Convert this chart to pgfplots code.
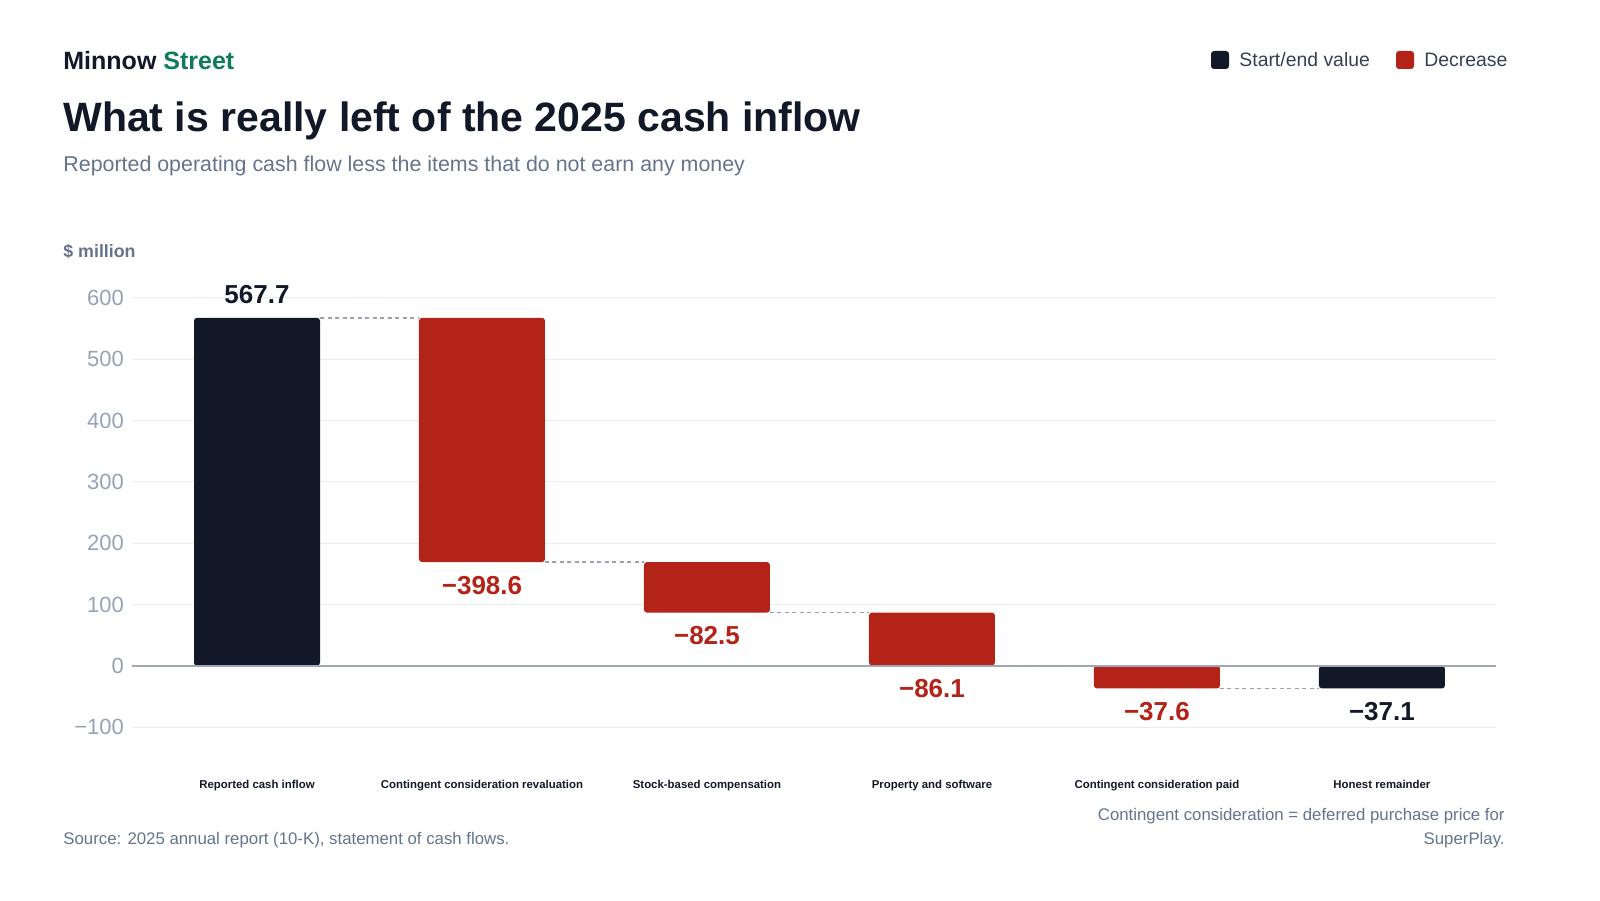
\documentclass[border=0pt]{standalone}
\usepackage{fontspec}
\setmainfont{Liberation Sans}
\usepackage{pgfplots}
\pgfplotsset{compat=1.18}
\definecolor{navy}{HTML}{111827}
\definecolor{redbar}{HTML}{B42318}
\definecolor{brandgreen}{HTML}{0F7B5A}
\definecolor{subgray}{HTML}{64748B}
\definecolor{leggray}{HTML}{334155}
\definecolor{tickgray}{HTML}{94A3B8}
\definecolor{gridgray}{HTML}{E8EBEF}
\definecolor{zerogray}{HTML}{A0A7B8}
\definecolor{dashgray}{HTML}{98A2B3}
\begin{document}
\begin{tikzpicture}[x=1pt,y=1pt]
% header
\node[anchor=base west,inner sep=0,font=\fontsize{12.5}{15}\selectfont\bfseries] at (31.5,415) {\textcolor{navy}{Minnow} \textcolor{brandgreen}{Street}};
\node[anchor=base west,inner sep=0,font=\fontsize{20.5}{24}\selectfont\bfseries,text=navy] at (31.5,384) {What is really left of the 2025 cash inflow};
\node[anchor=base west,inner sep=0,font=\fontsize{10.7}{13}\selectfont,text=subgray] at (31.5,364) {Reported operating cash flow less the items that do not earn any money};
\node[anchor=base west,inner sep=0,font=\fontsize{8.9}{11}\selectfont\bfseries,text=subgray] at (31.5,321) {\$ million};
% legend
\fill[navy,rounded corners=1.5pt] (605.5,415.5) rectangle (614.5,424.5);
\node[anchor=west,inner sep=0,font=\fontsize{9.7}{12}\selectfont,text=leggray] at (619.5,420) {Start/end value};
\fill[redbar,rounded corners=1.5pt] (698,415.5) rectangle (707,424.5);
\node[anchor=west,inner sep=0,font=\fontsize{9.7}{12}\selectfont,text=leggray] at (712,420) {Decrease};
% footer
\node[anchor=west,inner sep=0,font=\fontsize{8.4}{10}\selectfont,text=subgray] at (31.5,30) {Source: 2025 annual report (10-K), statement of cash flows.};
\node[anchor=east,inner sep=0,font=\fontsize{8.4}{10}\selectfont,text=subgray] at (752.5,42) {Contingent consideration = deferred purchase price for};
\node[anchor=east,inner sep=0,font=\fontsize{8.4}{10}\selectfont,text=subgray] at (752.5,30) {SuperPlay.};
\begin{axis}[
  at={(66pt,86.5pt)}, anchor=south west,
  scale only axis, width=682pt, height=214.5pt,
  xmin=-0.5556, xmax=5.507, ymin=-100, ymax=600,
  clip=false,
  axis line style={draw=none},
  tick style={draw=none},
  ymajorgrids, grid style={gridgray,line width=0.5pt},
  ytick={-100,0,100,200,300,400,500,600},
  yticklabels={−100,0,100,200,300,400,500,600},
  yticklabel style={font=\fontsize{11}{13}\selectfont,text=tickgray,xshift=-0.5pt},
  xtick={0,1,2,3,4,5},
  xticklabels={Reported cash inflow,Contingent consideration revaluation,Stock-based compensation,Property and software,Contingent consideration paid,Honest remainder},
  xticklabel style={font=\fontsize{5.7}{7}\selectfont\bfseries,text=navy,anchor=base,yshift=-30.5pt},
]
% bars: (left,top) (right,top) (right,bottom) (left,bottom)
\addplot[draw=none,fill=navy,rounded corners=1.5pt] coordinates {(-0.28,567.7) (0.28,567.7) (0.28,0) (-0.28,0)} -- cycle;
\addplot[draw=none,fill=redbar,rounded corners=1.5pt] coordinates {(0.72,567.7) (1.28,567.7) (1.28,169.1) (0.72,169.1)} -- cycle;
\addplot[draw=none,fill=redbar,rounded corners=1.5pt] coordinates {(1.72,169.1) (2.28,169.1) (2.28,86.6) (1.72,86.6)} -- cycle;
\addplot[draw=none,fill=redbar,rounded corners=1.5pt] coordinates {(2.72,86.6) (3.28,86.6) (3.28,0.5) (2.72,0.5)} -- cycle;
\addplot[draw=none,fill=redbar,rounded corners=1.5pt] coordinates {(3.72,0.5) (4.28,0.5) (4.28,-37.1) (3.72,-37.1)} -- cycle;
\addplot[draw=none,fill=navy,rounded corners=1.5pt] coordinates {(4.72,0) (5.28,0) (5.28,-37.1) (4.72,-37.1)} -- cycle;
% zero line and connectors
\addplot[zerogray,line width=0.8pt] coordinates {(-0.5556,0) (5.507,0)};
\addplot[dashgray,line width=0.75pt,dash pattern=on 2pt off 1.75pt] coordinates {(0.28,567.7) (0.72,567.7)};
\addplot[dashgray,line width=0.75pt,dash pattern=on 2pt off 1.75pt] coordinates {(1.28,169.1) (1.72,169.1)};
\addplot[dashgray,line width=0.75pt,dash pattern=on 2pt off 1.75pt] coordinates {(2.28,86.6) (2.72,86.6)};
\addplot[dashgray,line width=0.75pt,dash pattern=on 2pt off 1.75pt] coordinates {(3.28,0.5) (3.72,0.5)};
\addplot[dashgray,line width=0.75pt,dash pattern=on 2pt off 1.75pt] coordinates {(4.28,-37.1) (4.72,-37.1)};
% value labels
\node[font=\fontsize{13}{15}\selectfont\bfseries,text=navy,yshift=11.5pt] at (axis cs:0,567.7) {567.7};
\node[font=\fontsize{13}{15}\selectfont\bfseries,text=redbar,yshift=-11.5pt] at (axis cs:1,169.1) {−398.6};
\node[font=\fontsize{13}{15}\selectfont\bfseries,text=redbar,yshift=-11.5pt] at (axis cs:2,86.6) {−82.5};
\node[font=\fontsize{13}{15}\selectfont\bfseries,text=redbar,yshift=-11.5pt] at (axis cs:3,0.5) {−86.1};
\node[font=\fontsize{13}{15}\selectfont\bfseries,text=redbar,yshift=-11.5pt] at (axis cs:4,-37.1) {−37.6};
\node[font=\fontsize{13}{15}\selectfont\bfseries,text=navy,yshift=-11.5pt] at (axis cs:5,-37.1) {−37.1};
\end{axis}
\pgfresetboundingbox
\useasboundingbox (0,0) rectangle (800,450);
\end{tikzpicture}
\end{document}
